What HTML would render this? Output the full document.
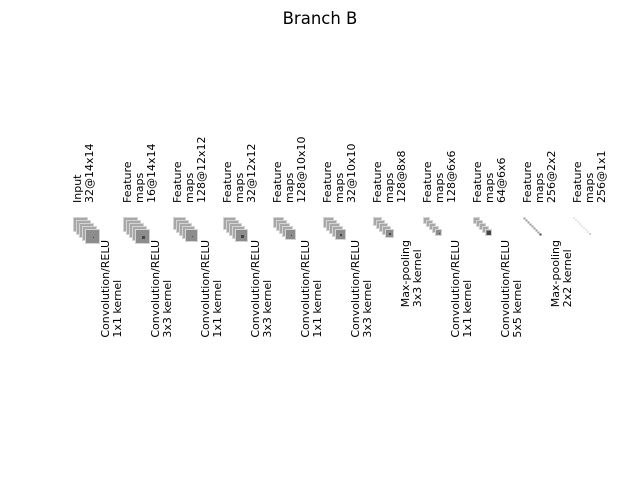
<!DOCTYPE html>
<html><head><meta charset="utf-8"><style>
html,body{margin:0;padding:0;background:#fff;}
svg{display:block;}
text{font-family:"DejaVu Sans","Liberation Sans",sans-serif;font-size:11px;fill:#000;}
</style></head><body>
<svg id="s" width="640" height="480" xmlns="http://www.w3.org/2000/svg">
<text x="320" y="24" text-anchor="middle" style="font-size:16.5px">Branch B</text>
</svg>
<script>
var s=document.getElementById('s'),NS='http://www.w3.org/2000/svg';
function el(t,a,txt){var e=document.createElementNS(NS,t);for(var k in a)e.setAttribute(k,a[k]);if(txt)e.textContent=txt;s.appendChild(e);return e;}
var tops=[["Input","32@14x14"],["Feature","maps","16@14x14"],["Feature","maps","128@12x12"],["Feature","maps","32@12x12"],["Feature","maps","128@10x10"],["Feature","maps","32@10x10"],["Feature","maps","128@8x8"],["Feature","maps","128@6x6"],["Feature","maps","64@6x6"],["Feature","maps","256@2x2"],["Feature","maps","256@1x1"]];
for(var i=0;i<tops.length;i++){var x0=73+50*i;for(var j=0;j<tops[i].length;j++){var bx=x0+8+12*j;el('text',{x:0,y:0,transform:'translate('+bx+',203) rotate(-90)'},tops[i][j]);}}
var bots=[["Convolution/RELU","1x1 kernel"],["Convolution/RELU","3x3 kernel"],["Convolution/RELU","1x1 kernel"],["Convolution/RELU","3x3 kernel"],["Convolution/RELU","1x1 kernel"],["Convolution/RELU","3x3 kernel"],["Max-pooling","3x3 kernel"],["Convolution/RELU","1x1 kernel"],["Convolution/RELU","5x5 kernel"],["Max-pooling","2x2 kernel"]];
for(var i=0;i<bots.length;i++){var x0=99+50*i;var es=[],mx=0;for(var j=0;j<2;j++){var e=el('text',{x:0,y:0},bots[i][j]);es.push(e);mx=Math.max(mx,e.getComputedTextLength());}
 for(var j=0;j<2;j++){var bx=x0+10+12*j;es[j].setAttribute('transform','translate('+bx+','+(240+mx)+') rotate(-90)');}}
var st=[[14,5,3,1],[14,5,3,3],[12,5,3,1],[12,5,3,3],[10,5,3,1],[10,5,3,3],[8,5,3,3],[6,5,3,1],[6,5,3,5],[2,9,2,2],[1,9,2,0]];
for(var i=0;i<st.length;i++){var x0=73+50*i,sz=st[i][0],n=st[i][1],o=st[i][2];
 for(var k=0;k<n;k++){var last=k==n-1;var sm=sz<=2;
  el('rect',{x:x0+o*k+0.5,y:217+o*k+0.5,width:sz,height:sz,fill:sm?(last?'#444':'#999'):(last?'#8c8c8c':'#a8a8a8'),stroke:sm?'none':'#d4d4d4','stroke-width':1});}
 var ks=st[i][3];if(ks>0&&sz>2){var fx=x0+o*(n-1),fy=217+o*(n-1);var kk=Math.max(1,Math.round(ks*sz/14));if(ks==5)kk=4;
  el('rect',{x:Math.round(fx+sz/2-kk/2+1),y:Math.round(fy+sz/2-kk/2+1),width:kk,height:kk,fill:'#444'});}}
</script>
</body></html>
